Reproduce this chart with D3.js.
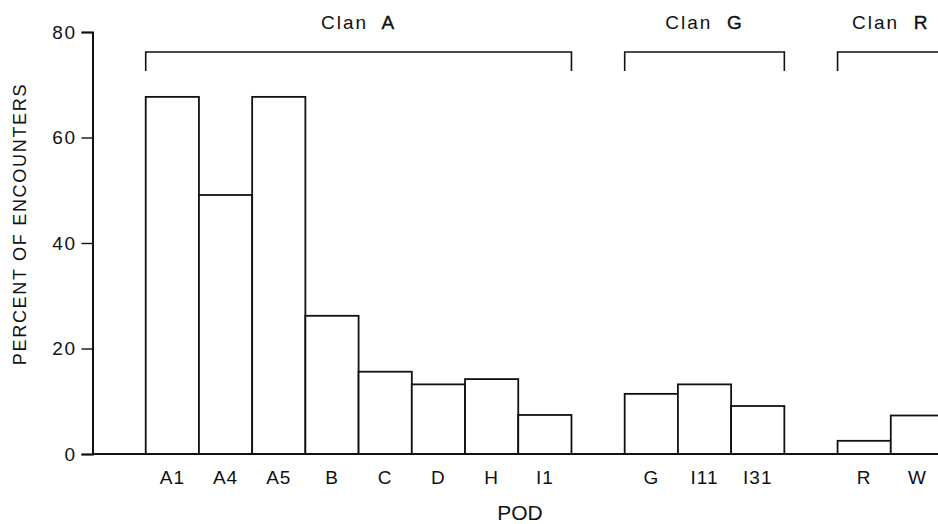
<!DOCTYPE html>
<html>
<head>
<meta charset="utf-8">
<script src="https://cdn.jsdelivr.net/npm/d3@7"></script>
<style>
  html, body { margin: 0; padding: 0; background: #fff; overflow: hidden; }
  svg { display: block; }
  text { font-family: "Liberation Sans", Arial, Helvetica, sans-serif; fill: #111; }
</style>
</head>
<body>
<svg id="chart" width="938" height="524"></svg>
<script>
// Pods in plotting order, with blank slots separating the clans
const slots = ["s0", "A1", "A4", "A5", "B", "C", "D", "H", "I1", "s9", "G", "I11", "I31", "s13", "R", "W"];
const pods = ["A1", "A4", "A5", "B", "C", "D", "H", "I1", "G", "I11", "I31", "R", "W"];
const percent = [67.7, 49.1, 67.7, 26.2, 15.6, 13.2, 14.2, 7.4, 11.4, 13.2, 9.1, 2.5, 7.3];
const clanNames = ["A", "G", "R"];
const clanPods = [["A1", "I1"], ["G", "I31"], ["R", "W"]];
const yTicks = [0, 20, 40, 60, 80];

const svg = d3.select("#chart");
const ink = "#111";

const x = d3.scaleBand().domain(slots).range([92.5, 944]).paddingInner(0).paddingOuter(0);
const y = d3.scaleLinear().domain([0, 80]).range([454, 32]);

// Bars
svg.append("g")
  .selectAll("rect")
  .data(pods.map((p, i) => ({ pod: p, v: percent[i] })))
  .join("rect")
  .attr("x", d => x(d.pod))
  .attr("y", d => y(d.v))
  .attr("width", x.bandwidth())
  .attr("height", d => y(0) - y(d.v))
  .attr("fill", "#fff")
  .attr("stroke", ink)
  .attr("stroke-width", 1.8);

// Baseline along the pods
svg.append("line")
  .attr("x1", x.range()[0]).attr("x2", x.range()[1])
  .attr("y1", y(0)).attr("y2", y(0))
  .attr("stroke", ink).attr("stroke-width", 2);

// Y axis
const yAxis = svg.append("g")
  .attr("transform", `translate(${x.range()[0]},0)`)
  .call(d3.axisLeft(y).tickValues(yTicks).tickSize(11).tickPadding(5).tickFormat(d3.format("d")));
yAxis.select(".domain").attr("stroke", ink).attr("stroke-width", 2);
yAxis.selectAll(".tick line").attr("stroke", ink).attr("stroke-width", 1.4);
yAxis.selectAll(".tick text")
  .attr("font-size", 19).attr("letter-spacing", "1.5px")
  .attr("font-family", "Liberation Sans, Arial, sans-serif").attr("fill", ink);

// X axis labels
const xAxis = svg.append("g")
  .attr("transform", `translate(0,${y(0)})`)
  .call(d3.axisBottom(x).tickValues(pods).tickSize(0).tickPadding(17));
xAxis.select(".domain").remove();
xAxis.selectAll(".tick text")
  .attr("font-size", 19).attr("letter-spacing", "1px")
  .attr("font-family", "Liberation Sans, Arial, sans-serif").attr("fill", ink);

// Axis titles
svg.append("text")
  .attr("x", 520).attr("y", 520)
  .attr("text-anchor", "middle")
  .attr("font-size", 21)
  .text("POD");

svg.append("text")
  .attr("transform", "translate(26,224) rotate(-90)")
  .attr("text-anchor", "middle")
  .attr("font-size", 18)
  .attr("letter-spacing", "1.7px")
  .text("PERCENT OF ENCOUNTERS");

// Clan brackets and labels
const brackets = svg.append("g");
clanPods.forEach((c, i) => {
  const x0 = x(c[0]);
  const x1 = x(c[1]) + x.bandwidth();
  brackets.append("path")
    .attr("d", `M${x0},71V52H${x1}V71`)
    .attr("fill", "none").attr("stroke", ink).attr("stroke-width", 1.6);
  const t = brackets.append("text")
    .attr("x", (x0 + x1) / 2).attr("y", 29)
    .attr("text-anchor", "middle")
    .attr("font-size", 19)
    .attr("letter-spacing", "2px")
    .attr("xml:space", "preserve")
    .style("white-space", "pre");
  t.append("tspan").text("Clan  ");
  t.append("tspan").attr("stroke", ink).attr("stroke-width", 0.4).text(clanNames[i]);
});
</script>
</body>
</html>
